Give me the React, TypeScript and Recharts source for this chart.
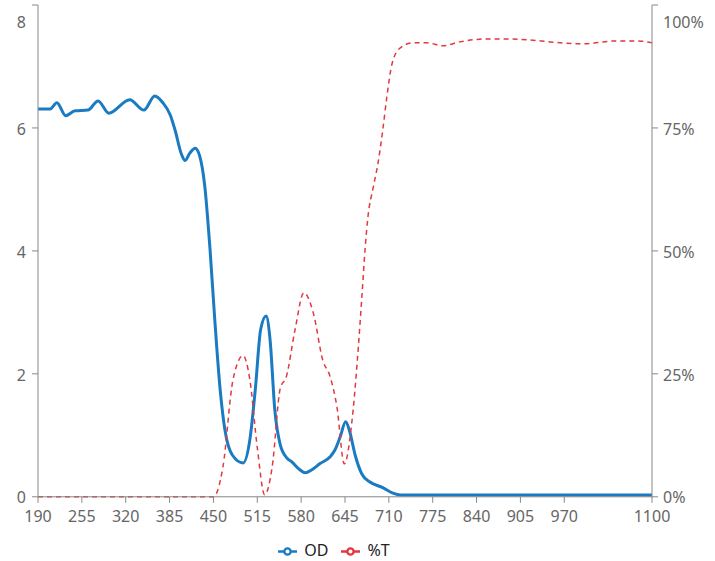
import { LineChart, Line, XAxis, YAxis, Legend } from 'recharts';

const xTicks = [190, 255, 320, 385, 450, 515, 580, 645, 710, 775, 840, 905, 970, 1100];
const odTicks = [0, 2, 4, 6, 8];
const tTicks = [0, 25, 50, 75, 100];

// OD curve (left axis)
const odWavelengths = [
  190, 208, 218, 231, 245, 264, 279, 295, 326, 347, 363, 375, 386, 393, 403, 408, 415, 423, 430,
  437, 445, 452, 460, 467, 478, 494, 504, 512, 520, 528, 534, 541, 549, 559, 566, 578, 586, 596,
  608, 623, 630, 638, 646, 652, 660, 670, 682, 701, 716, 727, 800, 900, 1000, 1100,
];
const odValues = [
  6.31, 6.31, 6.41, 6.2, 6.28, 6.29, 6.44, 6.24, 6.46, 6.29, 6.52, 6.41, 6.21, 5.97, 5.56, 5.47, 5.59, 5.67, 5.53,
  5.07, 4.02, 2.88, 1.74, 1.09, 0.68, 0.55, 0.93, 1.74, 2.72, 2.94, 2.55, 1.41, 0.85, 0.63, 0.57, 0.44, 0.39, 0.44,
  0.54, 0.65, 0.76, 0.98, 1.22, 1.06, 0.68, 0.37, 0.24, 0.15, 0.06, 0.03, 0.03, 0.03, 0.03, 0.03,
];

// transmission curve (right axis, %)
const tWavelengths = [
  190, 300, 400, 450, 464, 479, 494, 504, 515, 526, 537, 549, 558, 571, 584, 598, 612, 623, 633,
  644, 655, 663, 670, 675, 679, 687, 694, 701, 707, 715, 727, 746, 767, 790, 815, 855, 885, 919,
  949, 998, 1048, 1078, 1100,
];
const tValues = [
  0, 0, 0, 0, 6, 23.8, 28.7, 23.8, 10, 0.4, 6, 22, 24.4, 34, 41.5, 37.4, 27.8, 24.4, 18.3,
  6.7, 15, 27.2, 40.7, 50.8, 56.9, 63, 67.9, 74.6, 81.3, 88.2, 91.3, 92.3, 92.3, 91.7, 92.5, 93.1, 93.1, 92.9,
  92.5, 92.1, 92.7, 92.7, 92.3,
];

const odData = odWavelengths.map((wl, i) => ({ wl, od: odValues[i] }));
const tData = tWavelengths.map((wl, i) => ({ wl, t: tValues[i] }));

const tickColor = '#666';
const axisColor = '#888';

const LeftTick = (props: any) => {
  const { x, y, payload } = props;
  const shift = payload.value === 8 ? 13 : 1;
  return (
    <text x={x} y={y + shift} dy="0.355em" textAnchor="end" fill={tickColor} fontSize={16}>
      {payload.value}
    </text>
  );
};

const RightTick = (props: any) => {
  const { x, y, payload } = props;
  const shift = payload.value === 100 ? 13 : 1;
  return (
    <text x={x} y={y + shift} dy="0.355em" textAnchor="start" fill={tickColor} fontSize={16}>
      {payload.value}%
    </text>
  );
};

export default function App() {
  return (
    <div style={{ position: 'absolute', left: 0, top: 0, fontFamily: '"Noto Sans", sans-serif' }}>
      <LineChart width={715} height={561} margin={{ top: 5, right: 0, left: 0, bottom: 0 }}>
        <XAxis
          dataKey="wl"
          type="number"
          domain={[190, 1100]}
          ticks={xTicks}
          interval={0}
          allowDuplicatedCategory={false}
          stroke={axisColor}
          tickSize={6}
          tickMargin={8}
          height={42}
          tick={{ fill: tickColor, fontSize: 16 }}
        />
        <YAxis
          yAxisId="od"
          domain={[0, 8]}
          ticks={odTicks}
          width={38}
          stroke={axisColor}
          tickSize={6}
          tickMargin={6}
          tick={<LeftTick />}
        />
        <YAxis
          yAxisId="t"
          orientation="right"
          domain={[0, 100]}
          ticks={tTicks}
          width={63}
          stroke={axisColor}
          tickSize={6}
          tickMargin={5}
          tick={<RightTick />}
        />
        <Legend
          verticalAlign="bottom"
          iconSize={19}
          itemSorter="dataKey"
          wrapperStyle={{ left: -17 }}
          formatter={(value: string) => (
            <span style={{ color: '#222', fontSize: 16, marginLeft: 3, marginRight: 3 }}>{value}</span>
          )}
        />
        <Line
          yAxisId="od"
          data={odData}
          dataKey="od"
          name="OD"
          type="monotone"
          stroke="#1b7bc2"
          strokeWidth={3}
          dot={false}
          isAnimationActive={false}
        />
        <Line
          yAxisId="t"
          data={tData}
          dataKey="t"
          name="%T"
          type="monotone"
          stroke="#e0393f"
          strokeWidth={1.5}
          strokeDasharray="5 4"
          dot={false}
          isAnimationActive={false}
        />
      </LineChart>
    </div>
  );
}
